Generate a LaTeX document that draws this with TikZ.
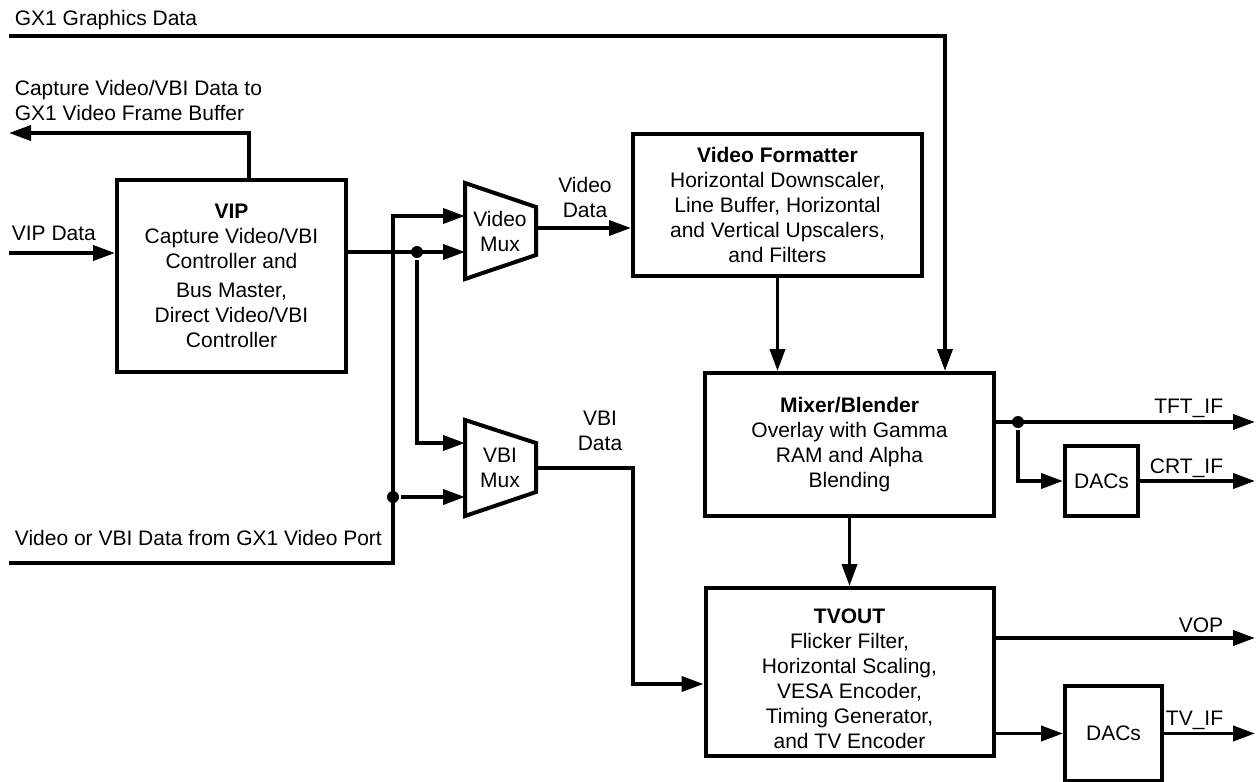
\documentclass[tikz,border=0pt]{standalone}
\usepackage{fontspec}
\setmainfont{Liberation Sans}
\usetikzlibrary{arrows.meta}

\begin{document}
\begin{tikzpicture}[
  x=0.5pt, y=-0.5pt,
  >={Triangle[length=11pt,width=7.5pt]}, line width=1.9pt,
  font=\fontsize{10.5}{12.5}\selectfont,
  blk/.style={draw, line width=2pt, align=center, inner sep=0pt},
  lbl/.style={inner sep=0pt},
  dot/.style={circle, fill, inner sep=0pt, minimum size=6pt}
]
  \useasboundingbox (0,0) rectangle (1260,782);

  % blocks
  \node[blk, minimum width=114.5pt, minimum height=96pt] (vip) at (231.5,276)
    {\textbf{VIP}\\Capture Video/VBI\\Controller and\\[2pt]Bus Master,\\Direct Video/VBI\\Controller};
  \node[blk, minimum width=144.5pt, minimum height=71pt] (vf) at (777.5,205)
    {\textbf{Video Formatter}\\Horizontal Downscaler,\\Line Buffer, Horizontal\\and Vertical Upscalers,\\and Filters};
  \node[blk, minimum width=144.5pt, minimum height=71.5pt] (mix) at (849.5,444.5)
    {\textbf{Mixer/Blender}\\Overlay with Gamma\\RAM and Alpha\\Blending};
  \node[blk, minimum width=144pt, minimum height=84pt] (tv) at (849.5,672)
    {\rule{0pt}{14pt}\textbf{TVOUT}\\Flicker Filter,\\Horizontal Scaling,\\VESA Encoder,\\Timing Generator,\\and TV Encoder};
  \node[blk, minimum width=36.5pt, minimum height=35pt] (dac1) at (1101.5,481) {DACs};
  \node[blk, minimum width=48.5pt, minimum height=47.5pt] (dac2) at (1113.5,733.5) {DACs};

  % muxes
  \draw[line width=2pt] (465,183) -- (536,207) -- (536,255) -- (465,279) -- cycle;
  \node[lbl, align=center] (vmux) at (500,231) {Video\\Mux};
  \draw[line width=2pt] (465,420) -- (536,443) -- (536,492) -- (465,516) -- cycle;
  \node[lbl, align=center] (bmux) at (500,468) {VBI\\Mux};

  % points
  \coordinate (gx) at (9,36);
  \coordinate (cap) at (9,133);
  \coordinate (vipin) at (9,253);
  \coordinate (port) at (9,563);
  \coordinate (bend) at (393,216);
  \coordinate (vin1) at (465,216);
  \coordinate (vin2) at (465,252);
  \coordinate (bin1) at (465,443);
  \coordinate (bin2) at (465,497);
  \coordinate (vout) at (536,228);
  \coordinate (bout) at (536,468);
  \coordinate (bbend) at (633,684);
  \coordinate (tft) at (1255,422);
  \coordinate (crt) at (1255,481);
  \coordinate (vop) at (1255,638);
  \coordinate (tvif) at (1255,733.5);
  \node[dot] (j1) at (417,252) {};
  \node[dot] (j2) at (393,497) {};
  \node[dot] (j3) at (1018,422) {};

  % edges
  \draw[->] (gx) -| ([shift={(95.5,0)}]mix.north);
  \draw[->] (vf.south) -- (vf.south |- mix.north);
  \draw[->] ([shift={(17.5,0)}]vip.north) |- (cap);
  \draw[->] (vipin) -- (vipin -| vip.west);
  \draw[->] (j1 -| vip.east) -- (vin2);
  \draw[->] (j1) |- (bin1);
  \draw[->] (port) -| (bend) -- (vin1);
  \draw[->] (j2) -- (bin2);
  \draw[->] (vout) -- (vout -| vf.west);
  \draw[->] (bout) -| (bbend) -- (bbend -| tv.west);
  \draw[->] (mix.south) -- (tv.north);
  \draw[->] (j3 -| mix.east) -- (tft);
  \draw[->] (j3) |- (dac1.west);
  \draw[->] (dac1.east) -- (crt);
  \draw[->] (vop -| tv.east) -- (vop);
  \draw[->] (dac2.west -| tv.east) -- (dac2.west);
  \draw[->] (dac2.east) -- (tvif);

  % labels
  \node[lbl, anchor=base west] (gxl) at (13,25) {GX1 Graphics Data};
  \node[lbl, anchor=west, align=left] (capl) at (13,100) {Capture Video/VBI Data to\\GX1 Video Frame Buffer};
  \node[lbl, anchor=base west] (vipl) at (10,240) {VIP Data};
  \node[lbl, anchor=base west] (portl) at (13,545) {Video or VBI Data from GX1 Video Port};
  \node[lbl, align=center] (vdl) at (585,197) {Video\\Data};
  \node[lbl, align=center] (bdl) at (600,431) {VBI\\Data};
  \node[lbl, anchor=base east] (tftl) at (1225,413) {TFT\_IF};
  \node[lbl, anchor=base east] (crtl) at (1225,473) {CRT\_IF};
  \node[lbl, anchor=base east] (vopl) at (1225,632) {VOP};
  \node[lbl, anchor=base east] (tvifl) at (1225,725) {TV\_IF};
\end{tikzpicture}
\end{document}
